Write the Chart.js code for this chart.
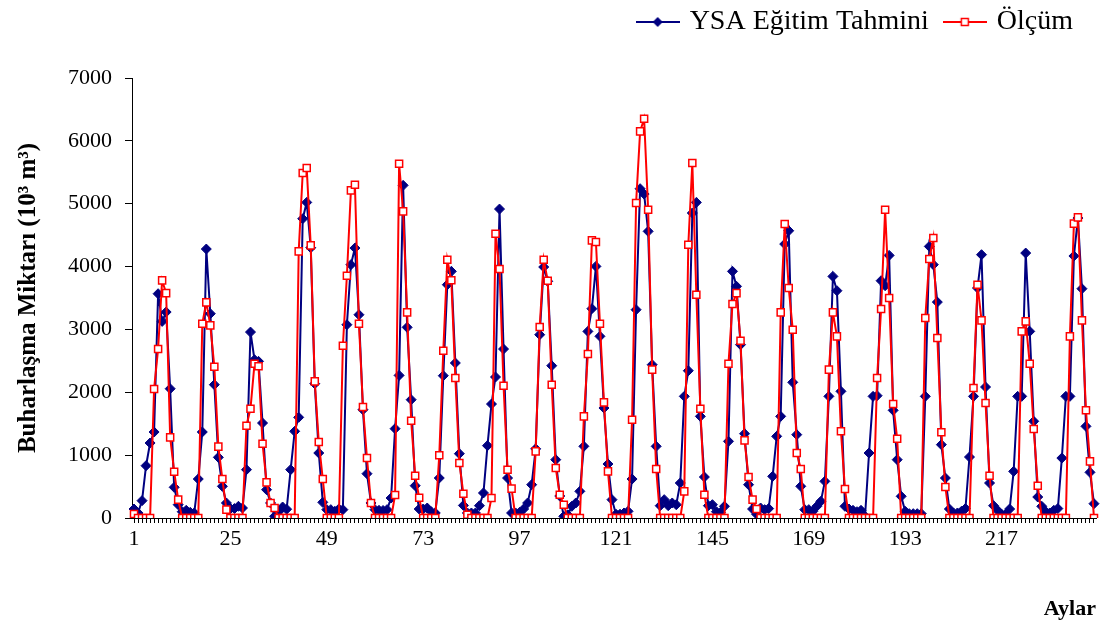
<!DOCTYPE html>
<html>
<head>
<meta charset="utf-8">
<title>Buharlaşma Miktarı</title>
<script src="https://cdn.jsdelivr.net/npm/chart.js@4/dist/chart.umd.min.js"></script>
<style>
    html, body { margin: 0; padding: 0; background: #fff; }
    #wrap { width: 1108px; height: 630px; }
</style>
</head>
<body>
<div id="wrap"><canvas id="myChart"></canvas></div>
<script>
// data
const months = Array.from({ length: 240 }, (_, i) => String(i + 1))
const tickLabels = ['1', '25', '49', '73', '97', '121', '145', '169', '193', '217']

// YSA Eğitim Tahmini, one row per year (12 months)
const ysaTahmin = [
    143, 80, 276, 832, 1193, 1368, 3568, 3128, 3277, 2057, 488, 212,
    100, 122, 90, 80, 620, 1368, 4279, 3250, 2121, 965, 504, 239,
    150, 150, 186, 159, 769, 2958, 2518, 2492, 1511, 451, 239, 27,
    100, 175, 140, 769, 1379, 1601, 4761, 5021, 4300, 2137, 1034, 249,
    133, 133, 106, 143, 133, 3075, 4030, 4295, 3234, 1723, 705, 239,
    133, 122, 120, 133, 318, 1421, 2269, 5292, 3033, 1882, 514, 143,
    143, 159, 100, 80, 636, 2264, 3712, 3924, 2466, 1023, 200, 80,
    80, 80, 196, 398, 1151, 1813, 2243, 4915, 2688, 636, 80, 80,
    90, 143, 239, 530, 1100, 2916, 3993, 3765, 2423, 928, 350, 27,
    50, 186, 239, 424, 1140, 2969, 3330, 4003, 2890, 1750, 859, 292,
    60, 60, 80, 106, 620, 3314, 5239, 5154, 4560, 2439, 1140, 196,
    292, 196, 239, 212, 557, 1935, 2343, 4852, 5021, 1617, 652, 196,
    212, 100, 90, 186, 1220, 3924, 3685, 2757, 1341, 530, 143, 60,
    159, 133, 150, 663, 1299, 1617, 4358, 4570, 2158, 1326, 504, 133,
    133, 106, 186, 265, 583, 1935, 3844, 3616, 2015, 186, 143, 122,
    100, 122, 27, 1034, 1935, 1946, 3775, 3696, 4178, 1713, 928, 345,
    106, 69, 69, 69, 69, 1935, 4321, 4030, 3435, 1167, 636, 143,
    80, 80, 106, 150, 970, 1935, 3659, 4189, 2084, 557, 196, 122,
    60, 60, 143, 742, 1935, 1935, 4215, 2969, 1538, 334, 186, 100,
    80, 122, 150, 954, 1935, 1935, 4168, 4772, 3648, 1458, 726, 228
]

// Ölçüm, one row per year (12 months)
const olcum = [
    64, 0, 0, 0, 0, 2052, 2688, 3780, 3578, 1283, 737, 292,
    0, 0, 0, 0, 0, 3091, 3430, 3065, 2407, 1135, 620, 133,
    0, 0, 0, 0, 1469, 1739, 2455, 2413, 1182, 567, 239, 159,
    0, 0, 0, 0, 0, 4242, 5488, 5567, 4337, 2174, 1209, 620,
    0, 0, 0, 0, 2741, 3855, 5212, 5302, 3091, 1766, 954, 239,
    0, 0, 0, 0, 0, 366, 5636, 4878, 3271, 1548, 673, 323,
    0, 0, 0, 0, 997, 2662, 4109, 3781, 2227, 875, 387, 53,
    0, 0, 0, 0, 0, 318, 4523, 3961, 2105, 769, 467, 0,
    0, 0, 0, 0, 1060, 3038, 4109, 3775, 2121, 795, 371, 212,
    0, 0, 0, 0, 1617, 2609, 4417, 4390, 3091, 1840, 742, 0,
    0, 0, 0, 0, 1564, 5011, 6151, 6352, 4905, 2360, 779, 0,
    0, 0, 0, 0, 0, 424, 4348, 5647, 3552, 1739, 371, 0,
    0, 0, 0, 0, 2455, 3404, 3578, 2821, 1235, 652, 292, 143,
    0, 0, 0, 0, 0, 3271, 4677, 3659, 2996, 1034, 780, 0,
    0, 0, 0, 0, 0, 2360, 3271, 2890, 1379, 461, 0, 0,
    0, 0, 0, 0, 0, 2227, 3324, 4905, 3499, 1813, 1262, 0,
    0, 0, 0, 0, 0, 3181, 4120, 4454, 2863, 1363, 493, 0,
    0, 0, 0, 0, 0, 2068, 3712, 3144, 1829, 673, 0, 0,
    0, 0, 0, 0, 0, 2969, 3128, 2455, 1416, 514, 0, 0,
    0, 0, 0, 0, 0, 2890, 4683, 4783, 3144, 1713, 901, 0
]

const fontName = "'Liberation Serif', 'Times New Roman', serif"
const navy = '#000080'
const red = '#FF0000'

function main() {
    buildChart('myChart')
}

// functions
function legendIcon(color, marker) {
    const c = document.createElement('canvas')
    c.width = 44
    c.height = 14
    const ctx = c.getContext('2d')
    ctx.strokeStyle = color
    ctx.lineWidth = 2
    ctx.beginPath()
    ctx.moveTo(0, 7)
    ctx.lineTo(44, 7)
    ctx.stroke()
    if (marker === 'diamond') {
        ctx.fillStyle = color
        ctx.beginPath()
        ctx.moveTo(22, 2)
        ctx.lineTo(27, 7)
        ctx.lineTo(22, 12)
        ctx.lineTo(17, 7)
        ctx.closePath()
        ctx.fill()
    } else {
        ctx.fillStyle = '#fff'
        ctx.lineWidth = 1.5
        ctx.fillRect(18.5, 3.5, 7, 7)
        ctx.strokeRect(18.5, 3.5, 7, 7)
    }
    return c
}

// pushes the plot down under the legend and nudges the legend left
const legendSpace = {
    id: 'legendSpace',
    beforeLayout(chart) {
        const legend = chart.legend
        if (!legend || legend._spaced) return
        const fit = legend.fit
        legend.fit = function () {
            fit.call(this)
            this.height += 32
            this.lineWidths[0] += 5
        }
        legend._spaced = true
    }
}

function buildChart(canvasId) {
    const ctx = document.getElementById(canvasId)
    const icons = [legendIcon(navy, 'diamond'), legendIcon(red, 'square')]

    new Chart(ctx, {
        type: 'line',
        data: {
            labels: months,
            datasets: chartDatasets()
        },
        options: {
            responsive: true,
            maintainAspectRatio: false,
            animation: false,
            events: [],
            layout: { padding: { top: -10, right: 12, bottom: 0, left: 0 } },
            plugins: {
                legend: {
                    position: 'top',
                    align: 'end',
                    labels: {
                        usePointStyle: true,
                        pointStyleWidth: 36,
                        padding: 18,
                        color: '#000',
                        font: { family: fontName, size: 28 },
                        generateLabels: (chart) => chart.data.datasets.map((ds, i) => ({
                            text: ds.label,
                            pointStyle: icons[i],
                            fillStyle: 'transparent',
                            strokeStyle: 'transparent',
                            lineWidth: 0,
                            fontColor: '#000',
                            hidden: false,
                            datasetIndex: i
                        }))
                    }
                },
                tooltip: { enabled: false }
            },
            scales: {
                x: {
                    offset: true,
                    border: { display: true, color: '#000', width: 1 },
                    grid: { display: true, drawOnChartArea: false, drawTicks: true, tickLength: 5, color: '#000' },
                    ticks: {
                        autoSkip: false,
                        maxRotation: 0,
                        minRotation: 0,
                        padding: 3,
                        color: '#000',
                        font: { family: fontName, size: 22 },
                        callback: function (value) {
                            const label = this.getLabelForValue(value)
                            return tickLabels.includes(label) ? label : ''
                        }
                    },
                    title: {
                        display: true,
                        text: 'Aylar',
                        align: 'end',
                        color: '#000',
                        font: { family: fontName, size: 22, weight: 'bold' },
                        padding: { top: 0, bottom: 7 }
                    },
                    afterFit: (scale) => { scale.height = 112 }
                },
                y: {
                    min: 0,
                    max: 7000,
                    border: { display: true, color: '#000', width: 1 },
                    grid: { display: true, drawOnChartArea: false, drawTicks: true, tickLength: 7, color: '#000' },
                    ticks: {
                        stepSize: 1000,
                        padding: 13,
                        color: '#000',
                        font: { family: fontName, size: 22 },
                        callback: (value) => String(value)
                    },
                    title: {
                        display: true,
                        text: 'Buharlaşma Miktarı (10³ m³)',
                        color: '#000',
                        font: { family: fontName, size: 25, weight: 'bold' },
                        padding: { top: 14, bottom: 0 }
                    },
                    afterFit: (scale) => { scale.width = 132 }
                }
            }
        },
        plugins: [legendSpace]
    })
}

function chartDatasets() {
    return [
        {
            label: 'YSA Eğitim Tahmini',
            data: ysaTahmin,
            order: 1,
            borderColor: navy,
            backgroundColor: navy,
            borderWidth: 2,
            tension: 0,
            pointStyle: 'rectRot',
            pointRadius: 5,
            pointBorderWidth: 1,
            pointBackgroundColor: navy,
            pointBorderColor: navy
        },
        {
            label: 'Ölçüm',
            data: olcum,
            order: 0,
            borderColor: red,
            backgroundColor: red,
            borderWidth: 2,
            tension: 0,
            pointStyle: 'rect',
            pointRadius: 5,
            pointBorderWidth: 1.5,
            pointBackgroundColor: '#FFFFFF',
            pointBorderColor: red
        }
    ]
}

// listeners
document.addEventListener('DOMContentLoaded', main)
</script>
</body>
</html>
